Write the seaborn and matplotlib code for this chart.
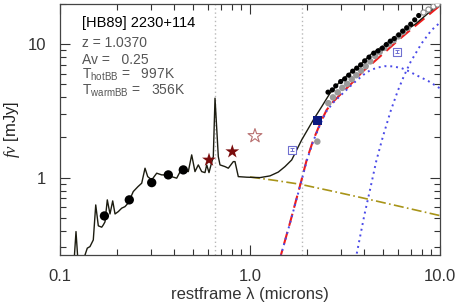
import numpy as np
import pandas as pd
import matplotlib
matplotlib.use("Agg")
import matplotlib.pyplot as plt
from matplotlib.ticker import FixedLocator, NullFormatter
import seaborn as sns

# quasar template + total model
tmpl_wave = [0.1185, 0.1214, 0.1244, 0.1338, 0.1354, 0.1392, 0.1438, 0.1497, 0.1542, 0.1591,
             0.1658, 0.1690, 0.1725, 0.1774, 0.1833, 0.1894, 0.1948, 0.2026, 0.2112, 0.2198,
             0.2288, 0.2430, 0.2573, 0.2692, 0.2802, 0.2895, 0.3039, 0.3228, 0.3429, 0.3715,
             0.3871, 0.4113, 0.4281, 0.4456, 0.4734, 0.4933, 0.5134, 0.5344, 0.5568, 0.5796,
             0.5916, 0.6085, 0.6234, 0.6410, 0.6544, 0.6811, 0.6952, 0.7385, 0.7688, 0.8168,
             0.8337, 0.8678, 0.9608, 1.129, 1.274, 1.409, 1.528, 1.658, 1.871, 2.154,
             2.385, 2.637, 2.976, 3.430, 3.793, 4.35, 5.798, 7.45, 10.0]
tmpl_flux = [0.233, 0.394, 0.233, 0.233, 0.263, 0.296, 0.304, 0.341, 0.624, 0.435,
             0.425, 0.442, 0.466, 0.681, 0.534, 0.669, 0.534, 0.556, 0.590, 0.606,
             0.646, 0.786, 0.856, 0.908, 1.176, 1.017, 0.961, 1.079, 1.048, 1.048,
             1.017, 0.990, 1.103, 1.142, 1.109, 1.480, 1.109, 1.245, 1.109, 1.090,
             1.245, 1.090, 1.245, 1.437, 3.937, 1.437, 1.245, 1.209, 1.176, 1.318,
             1.318, 1.017, 1.007, 1.000, 1.030, 1.100, 1.209, 1.357, 1.917, 2.707,
             3.405, 4.292, 5.244, 6.232, 6.996, 8.45, 11.15, 14.2, 20.3]

# photometry
phot_wave = [0.1713, 0.2316, 0.3039, 0.3715, 0.4456]
phot_flux = [0.516, 0.681, 0.917, 1.048, 1.142]
star_wave = [0.6085, 0.807]
star_flux = [1.357, 1.566]
open_star_wave = [1.062]
open_star_flux = [2.054]
navy_wave = [2.261]
navy_flux = [2.675]
sq_wave = [1.658, 5.92]
sq_flux = [1.613, 8.80]
sq_err = [0.04, 0.23]
gray1_wave = [2.261]
gray1_flux = [1.862]

# IRS spectrum (black) and its corrected version (gray)
irs_wave = [2.574, 2.712, 2.826, 3.001, 3.151, 3.307, 3.471, 3.643, 3.824, 4.014,
            4.230, 4.479, 4.718, 4.970, 5.217, 5.477, 5.748, 6.062, 6.364, 6.677,
            7.013, 7.361, 7.727]
irs_flux = [4.367, 4.544, 4.869, 5.244, 5.495, 5.855, 6.275, 6.608, 6.996, 7.496,
            7.990, 8.561, 8.909, 9.333, 9.931, 10.53, 11.02, 11.74, 12.52, 13.25,
            14.12, 15.21, 16.39]
irs2_wave = [2.584, 2.734, 2.894, 3.061, 3.240, 3.430, 3.626, 3.839, 4.064, 4.297,
             4.550, 4.816, 5.092, 5.391, 5.706, 6.033, 6.388, 6.761]
irs2_flux = [3.612, 3.993, 4.352, 4.704, 5.040, 5.466, 5.855, 6.340, 6.840, 7.432,
             8.173, 8.756, 9.383, 10.05, 10.68, 11.44, 12.37, 13.25]
open_wave = [8.138, 8.647, 9.188, 9.701]
open_flux = [17.31, 18.24, 19.21, 19.88]

# model components
sum_wave = [1.421, 1.623, 1.848, 1.988, 2.154, 2.385, 2.533, 2.744, 3.098, 3.498,
            3.948, 4.458, 5.030, 6.158, 7.542, 10.0]
sum_flux = [0.2333, 0.4574, 0.9079, 1.357, 1.917, 2.707, 3.218, 3.714, 4.412, 5.244,
            6.3, 7.3, 8.5, 11.0, 14.0, 19.5]
hot_wave = [1.421, 1.623, 1.848, 1.988, 2.154, 2.385, 2.533, 2.744, 3.098, 3.498,
            3.948, 4.281, 4.661, 5.135, 5.656, 6.286, 6.786, 7.542, 8.647, 10.0]
hot_flux = [0.2333, 0.4535, 0.897, 1.334, 1.884, 2.661, 3.162, 3.650, 4.314, 5.083,
            5.888, 6.362, 6.667, 6.840, 6.817, 6.608, 6.308, 5.837, 5.308, 4.664]
warm_wave = [3.527, 3.626, 4.000, 4.281, 4.621, 5.001, 5.502, 5.996, 6.464, 7.004,
             8.002, 9.000, 10.0]
warm_flux = [0.2216, 0.2588, 0.5253, 0.8087, 1.334, 2.019, 3.162, 4.467, 5.787, 7.367,
             10.14, 12.69, 14.52]
disk_wave = [1.0, 1.354, 1.833, 2.637, 3.853, 6.158, 10.0]
disk_flux = [1.01, 0.953, 0.892, 0.798, 0.708, 0.608, 0.519]

line_waves = [0.6563, 1.875]

sns.set_style("ticks")
plt.rcParams['font.family'] = ['Liberation Sans', 'DejaVu Sans']
plt.rcParams['mathtext.fontset'] = 'custom'
plt.rcParams['mathtext.rm'] = 'Liberation Sans'
plt.rcParams['mathtext.it'] = 'Liberation Serif:italic'

fig = plt.figure(figsize=(4.58, 3.05), dpi=100)
ax = fig.add_axes([60/458, 1-255/305, 380/458, 251/305])
ax.set_xscale('log')
ax.set_yscale('log')

for w in line_waves:
    ax.axvline(w, color='#b8b8b8', ls=(0, (1, 2)), lw=1.0, zorder=1)

sns.lineplot(x=disk_wave, y=disk_flux, ax=ax, color='#a89418', lw=1.2,
             linestyle=(0, (6, 2, 1, 2)), estimator=None, zorder=2)
sns.lineplot(x=warm_wave, y=warm_flux, ax=ax, color='#4a4ae8', lw=1.4,
             linestyle=(0, (1, 2)), estimator=None, zorder=2)
sns.lineplot(x=sum_wave, y=sum_flux, ax=ax, color='#ee1c1c', lw=1.5,
             linestyle=(0, (6, 3)), estimator=None, zorder=3)
sns.lineplot(x=hot_wave, y=hot_flux, ax=ax, color='#4a4ae8', lw=1.4,
             linestyle=(0, (1, 2)), estimator=None, zorder=3)
sns.lineplot(x=tmpl_wave, y=tmpl_flux, ax=ax, color='#1c1c10', lw=1.0,
             estimator=None, sort=False, zorder=4)

sns.scatterplot(x=irs2_wave, y=irs2_flux, ax=ax, color='#9a9a9a', s=22,
                edgecolor='none', zorder=5)
sns.scatterplot(x=gray1_wave, y=gray1_flux, ax=ax, color='#9a9a9a', s=22,
                edgecolor='none', zorder=5)
sns.scatterplot(x=irs_wave, y=irs_flux, ax=ax, color='black', s=14,
                edgecolor='none', zorder=6)
sns.scatterplot(x=open_wave, y=open_flux, ax=ax, facecolor='white', s=14,
                edgecolor='#888888', linewidth=0.8, zorder=6)
sns.scatterplot(x=phot_wave, y=phot_flux, ax=ax, color='black', s=45,
                edgecolor='none', zorder=6)
sns.scatterplot(x=star_wave, y=star_flux, ax=ax, color='#7a0c0c', marker='*',
                s=110, edgecolor='none', zorder=6)
sns.scatterplot(x=open_star_wave, y=open_star_flux, ax=ax, facecolor='none',
                marker='*', s=110, edgecolor='#b87070', linewidth=0.8, zorder=6)
sns.scatterplot(x=navy_wave, y=navy_flux, ax=ax, color='#0c1a80', marker='s',
                s=45, edgecolor='none', zorder=7)
sns.scatterplot(x=sq_wave, y=sq_flux, ax=ax, facecolor='white', marker='s',
                s=30, edgecolor='#7070d0', linewidth=0.8, zorder=6)
ax.errorbar(sq_wave, sq_flux, yerr=sq_err, fmt='none', ecolor='#7070d0',
            elinewidth=0.7, capsize=1.2, capthick=0.7, zorder=7)

ax.set_xlim(0.1, 10.0)
ax.set_ylim(0.263, 20.0)

ax.xaxis.set_major_locator(FixedLocator([0.1, 1.0, 10.0]))
ax.set_xticklabels(['0.1', '1.0', '10.0'])
ax.xaxis.set_minor_locator(FixedLocator([m * d for d in [0.1, 1.0] for m in range(2, 10)]))
ax.xaxis.set_minor_formatter(NullFormatter())
ax.yaxis.set_major_locator(FixedLocator([1, 10]))
ax.set_yticklabels(['1', '10'])
ax.yaxis.set_minor_locator(FixedLocator([m * d for d in [0.1, 1.0, 10.0] for m in range(2, 10)]))
ax.yaxis.set_minor_formatter(NullFormatter())
ax.tick_params(which='both', direction='in', top=True, right=True, colors='#333333',
               labelsize=12, width=0.8)
ax.tick_params(which='major', length=7, pad=10)
ax.tick_params(which='minor', length=4)
for sp in ax.spines.values():
    sp.set_color('#444444')
    sp.set_linewidth(0.9)

ax.set_xlabel('restframe \u03bb (microns)', fontsize=12, color='#333333', labelpad=2)
ax.set_ylabel(r'$f\nu$ [mJy]', fontsize=12, color='#222222', labelpad=4)

ax.text(0.058, 0.924, '[HB89] 2230+114', transform=ax.transAxes, fontsize=10.5,
        color='black', va='center')
info = ['z = 1.0370', 'Av =   0.25', r'T$_{\rm hotBB}$ =   997K', r'T$_{\rm warmBB}$ =   356K']
ypos = [0.845, 0.777, 0.717, 0.653]
for t, yy in zip(info, ypos):
    ax.text(0.058, yy, t, transform=ax.transAxes, fontsize=10, color='#555555', va='center')

fig.savefig('out.png', dpi=100)
